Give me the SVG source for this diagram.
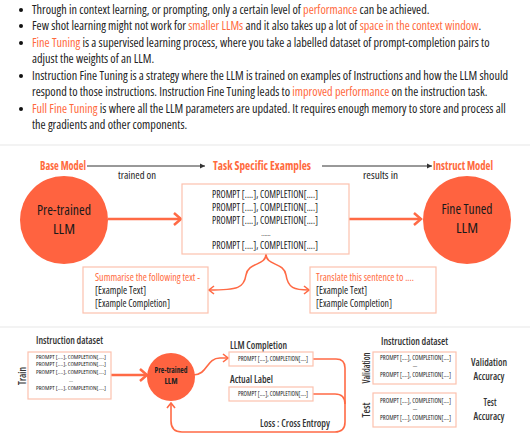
<svg xmlns="http://www.w3.org/2000/svg" width="530" height="442" viewBox="0 0 530 442">
<style>
text{font-family:"Open Sans","Liberation Sans",sans-serif;font-stretch:75%;fill:#222;}
.b{font-size:12.2px;}
.o{fill:#ff6a3d;}
.h{font-size:12px;font-weight:bold;fill:#ff6a3d;}
.l{font-size:11.5px;}
.c{font-size:15px;fill:#1a1a1a;}
.p{font-size:10px;}
.s{font-size:6.5px;}
.t{font-size:5.8px;}
.d{font-size:4.5px;}
.m{font-size:11.5px;font-weight:600;fill:#333;}
.a{font-size:11.5px;font-weight:600;fill:#333;}
.box{fill:#fff;stroke:#fcc1ae;stroke-width:1.2;}
.thin{fill:none;stroke:#333;stroke-width:1;}
.thick{fill:none;stroke:#ff6a45;stroke-width:2.5;}
.med{fill:none;stroke:#ff6a45;stroke-width:1.6;}
.circ{fill:#ff6340;}
</style>
<defs>
<marker id="ah" markerWidth="6" markerHeight="6" refX="5" refY="3" orient="auto" markerUnits="userSpaceOnUse"><path d="M0,0.5 L5,3 L0,5.5 Z" fill="#333"/></marker>
<marker id="ch" markerWidth="12" markerHeight="14" refX="10" refY="7" orient="auto" markerUnits="userSpaceOnUse"><path d="M3,1 L10,7 L3,13" fill="none" stroke="#ff6a45" stroke-width="2.5"/></marker>
<marker id="cs" markerWidth="8" markerHeight="10" refX="7" refY="5" orient="auto" markerUnits="userSpaceOnUse"><path d="M2,1 L7,5 L2,9" fill="none" stroke="#ff6a45" stroke-width="1.6"/></marker>
</defs>
<rect width="530" height="442" fill="#fff"/>
<g id="bullets">
<circle cx="21" cy="10" r="2" fill="#111"/>
<circle cx="21" cy="26" r="2" fill="#111"/>
<circle cx="21" cy="43" r="2" fill="#111"/>
<circle cx="21" cy="76" r="2" fill="#111"/>
<circle cx="21" cy="109" r="2" fill="#111"/>
<text class="b" x="32" y="14">Through in context learning, or prompting, only a certain level of <tspan class="o">performance</tspan> can be achieved.</text>
<text class="b" x="32" y="30">Few shot learning might not work for <tspan class="o">smaller LLMs</tspan> and it also takes up a lot of <tspan class="o">space in the context window</tspan>.</text>
<text class="b" x="32" y="47"><tspan class="o">Fine Tuning</tspan> is a supervised learning process, where you take a labelled dataset of prompt-completion pairs to</text>
<text class="b" x="32" y="63">adjust the weights of an LLM.</text>
<text class="b" x="32" y="80">Instruction Fine Tuning is a strategy where the LLM is trained on examples of Instructions and how the LLM should</text>
<text class="b" x="32" y="96">respond to those instructions. Instruction Fine Tuning leads to <tspan class="o">improved performance</tspan> on the instruction task.</text>
<text class="b" x="32" y="113"><tspan class="o">Full Fine Tuning</tspan> is where all the LLM parameters are updated. It requires enough memory to store and process all</text>
<text class="b" x="32" y="129">the gradients and other components.</text>
</g>
<rect x="0" y="144" width="530" height="2" fill="#f3f3f3"/>
<rect x="0" y="326" width="530" height="2" fill="#f3f3f3"/>
<g id="connectors">
<path class="thin" d="M87,166 H205" marker-end="url(#ah)"/>
<path class="thin" d="M322,166 H432" marker-end="url(#ah)"/>
<path class="thick" d="M108,219 H181" marker-end="url(#ch)"/>
<path class="thick" d="M349,219 H421" marker-end="url(#ch)"/>
<path class="med" d="M266,254 C266,266 248,262 246,275 C244,288 238,290 209,290" marker-end="url(#cs)"/>
<path class="med" d="M266,254 C266,266 284,262 286,275 C288,288 294,290 309,290" marker-end="url(#cs)"/>
<path class="thick" d="M111,375 H147" marker-end="url(#ch)"/>
<path class="med" d="M193,375 C208,375 206,358 220,358 H228" marker-end="url(#cs)"/>
<path class="med" d="M313,359 H336 Q345,359 345,368 V422 Q345,432 335,432 H182 Q171,432 171,421 V403" marker-end="url(#cs)"/>
<path class="med" d="M313,394 H335 Q345,394 345,404"/>
</g>
<g id="labels-top">
<text class="h" x="40" y="170" textLength="46" lengthAdjust="spacingAndGlyphs">Base Model</text>
<text class="l" x="118" y="179" textLength="38" lengthAdjust="spacingAndGlyphs">trained on</text>
<text class="h" x="213" y="170" textLength="98" lengthAdjust="spacingAndGlyphs">Task Specific Examples</text>
<text class="l" x="363" y="179" textLength="35" lengthAdjust="spacingAndGlyphs">results in</text>
<text class="h" x="433" y="170" textLength="60" lengthAdjust="spacingAndGlyphs">Instruct Model</text>
</g>
<g id="pretrained">
<circle class="circ" cx="64" cy="220" r="44"/>
<text class="c" x="64" y="215" text-anchor="middle" textLength="54" lengthAdjust="spacingAndGlyphs">Pre-trained</text>
<text class="c" x="64" y="234" text-anchor="middle" textLength="22" lengthAdjust="spacingAndGlyphs">LLM</text>
</g>
<g id="examples">
<rect class="box" x="182" y="184" width="167" height="70"/>
<text class="p" x="212" y="198" textLength="106" lengthAdjust="spacingAndGlyphs">PROMPT [....], COMPLETION[....]</text>
<text class="p" x="212" y="211" textLength="106" lengthAdjust="spacingAndGlyphs">PROMPT [....], COMPLETION[....]</text>
<text class="p" x="212" y="224" textLength="106" lengthAdjust="spacingAndGlyphs">PROMPT [....], COMPLETION[....]</text>
<text x="266" y="235.5" text-anchor="middle" font-size="7">......</text>
<text class="p" x="212" y="249" textLength="106" lengthAdjust="spacingAndGlyphs">PROMPT [....], COMPLETION[....]</text>
</g>
<g id="finetuned">
<circle class="circ" cx="467" cy="220" r="44"/>
<text class="c" x="467" y="214" text-anchor="middle" textLength="51" lengthAdjust="spacingAndGlyphs">Fine Tuned</text>
<text class="c" x="467" y="233" text-anchor="middle" textLength="22" lengthAdjust="spacingAndGlyphs">LLM</text>
</g>
<g id="summarise">
<rect class="box" x="83" y="267" width="125" height="46"/>
<text class="p o" x="95" y="281" textLength="105" lengthAdjust="spacingAndGlyphs">Summarise the following text -</text>
<text class="p" x="95" y="294" textLength="51" lengthAdjust="spacingAndGlyphs">[Example Text]</text>
<text class="p" x="95" y="307" textLength="75" lengthAdjust="spacingAndGlyphs">[Example Completion]</text>
</g>
<g id="translate">
<rect class="box" x="310" y="267" width="126" height="46"/>
<text class="p o" x="316" y="281" textLength="98" lengthAdjust="spacingAndGlyphs">Translate this sentence to ....</text>
<text class="p" x="316" y="294" textLength="51" lengthAdjust="spacingAndGlyphs">[Example Text]</text>
<text class="p" x="316" y="307" textLength="76" lengthAdjust="spacingAndGlyphs">[Example Completion]</text>
</g>
<g id="train-dataset">
<text class="m" x="36" y="344" textLength="67" lengthAdjust="spacingAndGlyphs">Instruction dataset</text>
<rect class="box" x="28" y="352" width="83" height="47"/>
<text class="t" x="36" y="358.5" textLength="70" lengthAdjust="spacingAndGlyphs">PROMPT [....], COMPLETION[....]</text>
<text class="t" x="36" y="366" textLength="70" lengthAdjust="spacingAndGlyphs">PROMPT [....], COMPLETION[....]</text>
<text class="t" x="36" y="373.5" textLength="70" lengthAdjust="spacingAndGlyphs">PROMPT [....], COMPLETION[....]</text>
<text class="d" x="71" y="382" text-anchor="middle">....</text>
<text class="t" x="36" y="390" textLength="70" lengthAdjust="spacingAndGlyphs">PROMPT [....], COMPLETION[....]</text>
<text class="m" transform="translate(26,376) rotate(-90)" text-anchor="middle" textLength="18" lengthAdjust="spacingAndGlyphs">Train</text>
</g>
<g id="pretrained-small">
<circle class="circ" cx="171" cy="377" r="24"/>
<text x="171" y="373" text-anchor="middle" font-size="8.5" font-weight="bold" textLength="33" lengthAdjust="spacingAndGlyphs">Pre-trained</text>
<text x="171" y="384" text-anchor="middle" font-size="8.5" font-weight="bold" textLength="13" lengthAdjust="spacingAndGlyphs">LLM</text>
</g>
<g id="llm-completion">
<text class="m" x="230" y="349" textLength="57" lengthAdjust="spacingAndGlyphs">LLM Completion</text>
<rect class="box" x="229" y="352" width="84" height="14"/>
<text class="s" x="238" y="361" textLength="70" lengthAdjust="spacingAndGlyphs">PROMPT [....], COMPLETION[....]</text>
</g>
<g id="actual-label">
<text class="m" x="230" y="383" textLength="43" lengthAdjust="spacingAndGlyphs">Actual Label</text>
<rect class="box" x="229" y="387" width="84" height="14"/>
<text class="s" x="238" y="396" textLength="70" lengthAdjust="spacingAndGlyphs">PROMPT [....], COMPLETION[....]</text>
</g>
<text class="m" x="260" y="427" textLength="70" lengthAdjust="spacingAndGlyphs">Loss : Cross Entropy</text>
<g id="eval-dataset">
<text class="m" x="381" y="345" textLength="67" lengthAdjust="spacingAndGlyphs">Instruction dataset</text>
<rect class="box" x="373" y="352" width="83" height="32"/>
<text class="s" x="380" y="360" textLength="71" lengthAdjust="spacingAndGlyphs">PROMPT [....], COMPLETION[....]</text>
<text class="d" x="415" y="367.5" text-anchor="middle">—</text>
<text class="s" x="380" y="377" textLength="71" lengthAdjust="spacingAndGlyphs">PROMPT [....], COMPLETION[....]</text>
<rect class="box" x="373" y="393" width="83" height="34"/>
<text class="s" x="380" y="402.5" textLength="71" lengthAdjust="spacingAndGlyphs">PROMPT [....], COMPLETION[....]</text>
<text class="d" x="415" y="410.5" text-anchor="middle">—</text>
<text class="s" x="380" y="419.5" textLength="71" lengthAdjust="spacingAndGlyphs">PROMPT [....], COMPLETION[....]</text>
<text class="m" transform="translate(370,368) rotate(-90)" text-anchor="middle" textLength="31" lengthAdjust="spacingAndGlyphs">Validation</text>
<text class="m" transform="translate(370,410) rotate(-90)" text-anchor="middle" textLength="15" lengthAdjust="spacingAndGlyphs">Test</text>
</g>
<g id="accuracy">
<text class="a" x="489" y="365.5" text-anchor="middle" textLength="36" lengthAdjust="spacingAndGlyphs">Validation</text>
<text class="a" x="489" y="379.5" text-anchor="middle" textLength="31" lengthAdjust="spacingAndGlyphs">Accuracy</text>
<text class="a" x="490" y="406" text-anchor="middle" textLength="13" lengthAdjust="spacingAndGlyphs">Test</text>
<text class="a" x="489" y="420" text-anchor="middle" textLength="31" lengthAdjust="spacingAndGlyphs">Accuracy</text>
</g>
</svg>
